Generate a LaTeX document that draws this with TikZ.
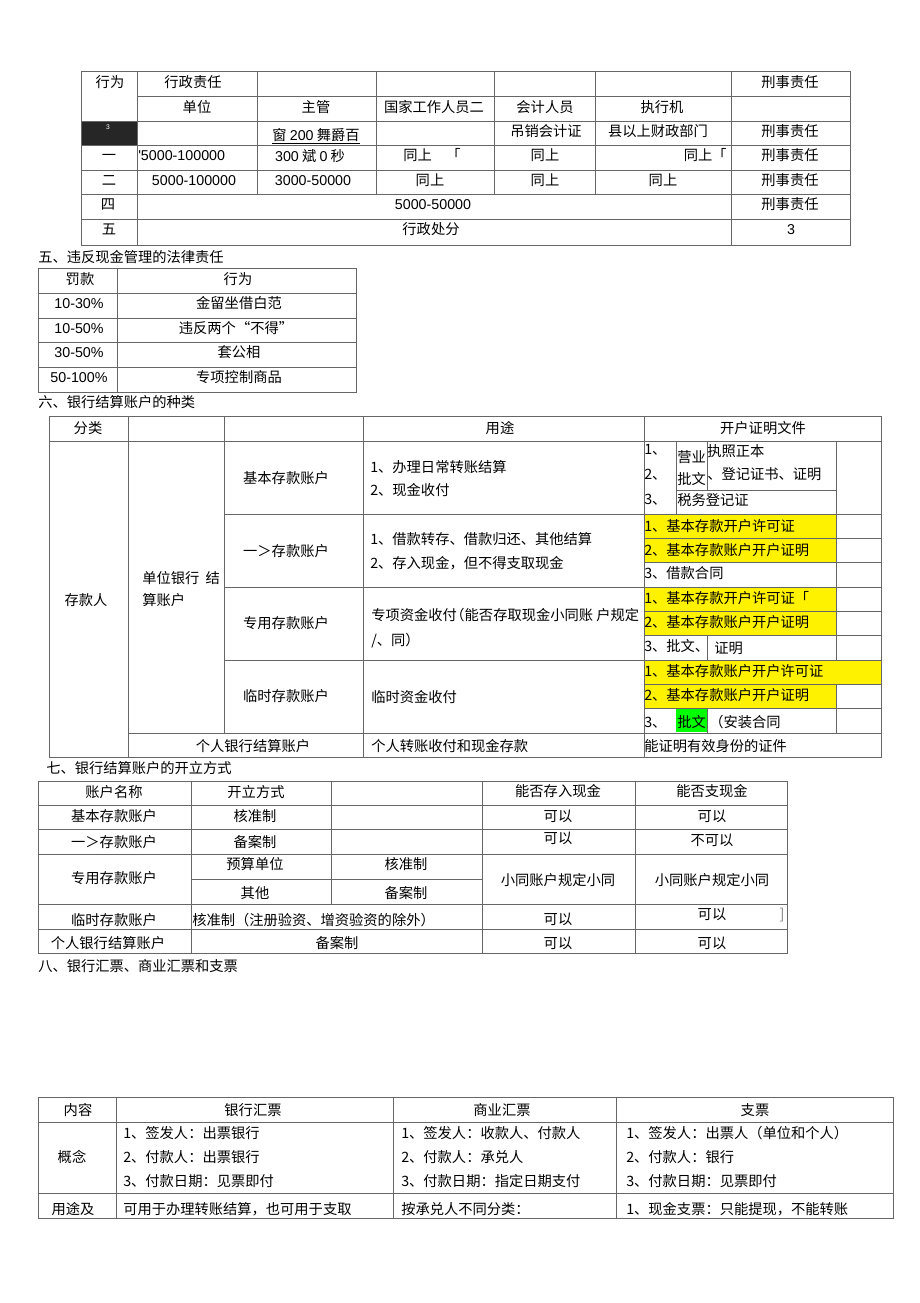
\documentclass[tikz,border=0pt]{standalone}
\usepackage{fontspec}
\setmainfont{Noto Sans CJK SC}
\newfontfamily\latfont{Liberation Sans}
\newcommand{\tabfont}{\fontsize{10.7}{16}\selectfont}
\tikzset{
  tabline/.style={draw=black!60, line width=0.75pt},
  txt/.style={inner sep=0pt, font=\tabfont, text height=9.4pt, text depth=1.3pt},
  ltxt/.style={txt, anchor=west},
  rtxt/.style={txt, anchor=east},
  num/.style={txt, font=\tabfont\latfont},
  lnum/.style={num, anchor=west},
  hilite/.style={fill=yellow},
}

\begin{document}
\begin{tikzpicture}[x=0.75pt, y=-0.75pt]
  \useasboundingbox[fill=white] (0,0) rectangle (920,1303);

  %%%%% table: legal liability %%%%%
  \fill[black!85] (81,121) rectangle (137,145);
  \draw[tabline] (81,71) rectangle (850,245);
  \draw[tabline] (137,96) -- (850,96);
  \foreach \y in {121,145,170,194,219}
    \draw[tabline] (81,\y) -- (850,\y);
  \foreach \x in {137,731}
    \draw[tabline] (\x,71) -- (\x,245);
  \foreach \x in {257,376,494,595}
    \draw[tabline] (\x,71) -- (\x,194);

  \node[txt] (xw) at (110,82) {行为};
  \node[txt] (xz) at (193,82) {行政责任};
  \node[txt] (xs1) at (790,82) {刑事责任};
  \node[txt] (dw) at (197,107) {单位};
  \node[txt] (zg) at (316,107) {主管};
  \node[txt] (gj) at (434,107) {国家工作人员二};
  \node[txt] (kj) at (545,107) {会计人员};
  \node[txt] (zx) at (662,107) {执行机};
  \node[inner sep=0pt, font=\fontsize{5}{6}\selectfont\latfont, text=white] (blk) at (108,127) {3};
  \node[txt] (wu) at (316,135) {\underline{窗 {\latfont 200} 舞爵百}};
  \node[txt] (dx) at (546,131) {吊销会计证};
  \node[txt] (cz) at (658,131) {县以上财政部门};
  \node[txt] (xs2) at (790,131) {刑事责任};
  \node[txt] (r1) at (109,155) {一};
  \node[lnum] (r1a) at (138,155) {'5000-100000};
  \node[txt] (r1b) at (310,156) {{\latfont 300} 斌 {\latfont 0} 秒};
  \node[txt] (r1c) at (432,155) {同上\quad 「};
  \node[txt] (r1d) at (545,155) {同上};
  \node[rtxt] (r1e) at (727,155) {同上「};
  \node[txt] (xs3) at (790,155) {刑事责任};
  \node[txt] (r2) at (109,180) {二};
  \node[num] (r2a) at (194,180) {5000-100000};
  \node[num] (r2b) at (313,180) {3000-50000};
  \node[txt] (r2c) at (430,180) {同上};
  \node[txt] (r2d) at (545,180) {同上};
  \node[txt] (r2e) at (663,180) {同上};
  \node[txt] (xs4) at (790,180) {刑事责任};
  \node[txt] (r4) at (108,204) {四};
  \node[num] (r4a) at (433,204) {5000-50000};
  \node[txt] (xs5) at (790,204) {刑事责任};
  \node[txt] (r5) at (109,229) {五};
  \node[txt] (r5a) at (431,229) {行政处分};
  \node[num] (r5b) at (791,229) {3};

  %%%%% table 5 %%%%%
  \node[ltxt] (h5) at (38,257) {五、违反现金管理的法律责任};
  \draw[tabline] (38,268) rectangle (356,392);
  \foreach \y in {293,318,342,367}
    \draw[tabline] (38,\y) -- (356,\y);
  \draw[tabline] (117,268) -- (117,392);
  \node[txt] (fk) at (80,279) {罚款};
  \node[txt] (xw5) at (238,279) {行为};
  \node[num] (p1) at (79,303) {10-30\%};
  \node[txt] (q1) at (239,303) {金留坐借白范};
  \node[num] (p2) at (79,328) {10-50\%};
  \node[txt] (q2) at (236,328) {违反两个“不得”};
  \node[num] (p3) at (79,352) {30-50\%};
  \node[txt] (q3) at (239,352) {套公相};
  \node[num] (p4) at (79,377) {50-100\%};
  \node[txt] (q4) at (239,377) {专项控制商品};

  %%%%% table 6 %%%%%
  \node[ltxt] (h6) at (38,402) {六、银行结算账户的种类};
  \fill[hilite] (644,514) rectangle (836,538);
  \fill[hilite] (644,538) rectangle (836,562);
  \fill[hilite] (644,587) rectangle (836,611);
  \fill[hilite] (644,611) rectangle (836,635);
  \fill[hilite] (644,660) rectangle (881,684);
  \fill[hilite] (644,684) rectangle (836,708);
  \fill[green] (676,708) rectangle (707,732);
  \draw[tabline] (49,416) rectangle (881,757);
  \draw[tabline] (49,441) -- (881,441);
  \foreach \y in {514,587,660}
    \draw[tabline] (224,\y) -- (881,\y);
  \draw[tabline] (128,733) -- (881,733);
  \foreach \x in {128,363,644}
    \draw[tabline] (\x,416) -- (\x,757);
  \draw[tabline] (224,416) -- (224,733);
  \draw[tabline] (836,441) -- (836,660);
  \draw[tabline] (836,684) -- (836,733);
  \draw[tabline] (676,441) -- (676,514);
  \draw[tabline] (707,441) -- (707,490);
  \draw[tabline] (676,490) -- (836,490);
  \foreach \y in {538,562,611,635,684,708}
    \draw[tabline] (644,\y) -- (881,\y);
  \draw[tabline] (707,635) -- (707,660);
  \draw[tabline] (707,708) -- (707,733);

  \node[txt] (fl) at (88,428) {分类};
  \node[txt] (yt) at (500,428) {用途};
  \node[txt] (kh) at (763,428) {开户证明文件};
  \node[txt] (ckr) at (86,600) {存款人};
  \node[ltxt] (dw6a) at (142,578) {单位银行\ \ 结};
  \node[ltxt] (dw6b) at (142,600) {算账户};
  \node[txt] (jb) at (286,478) {基本存款账户};
  \node[txt] (yb) at (286,551) {一＞存款账户};
  \node[txt] (zy) at (286,623) {专用存款账户};
  \node[txt] (ls) at (286,696) {临时存款账户};
  \node[txt] (gr) at (253,746) {个人银行结算账户};

  \node[ltxt] (jb1) at (370,467) {1、办理日常转账结算};
  \node[ltxt] (jb2) at (370,490) {2、现金收付};
  \node[ltxt] (yb1) at (370,539) {1、借款转存、借款归还、其他结算};
  \node[ltxt] (yb2) at (370,563) {2、存入现金，但不得支取现金};
  \node[ltxt] (zy1) at (371,615) {专项资金收付\hspace{-0.45em}（能否存取现金小同账\ 户规定};
  \node[ltxt] (zy2) at (371,640) {/、同）};
  \node[ltxt] (ls1) at (371,697) {临时资金收付};
  \node[ltxt] (gr1) at (371,746) {个人转账收付和现金存款};

  \node[ltxt] (jbn1) at (644,449) {1、};
  \node[ltxt] (jbn2) at (644,474) {2、};
  \node[ltxt] (jbn3) at (644,499) {3、};
  \node[ltxt] (yy) at (677,457) {营业};
  \node[ltxt] (pw) at (677,479) {批文};
  \node[ltxt] (zz) at (707,451) {执照正本};
  \node[ltxt] (dj) at (707,474) {、登记证书、证明};
  \node[ltxt] (sw) at (677,500) {税务登记证};
  \node[ltxt] (ybw1) at (644,526) {1、基本存款开户许可证};
  \node[ltxt] (ybw2) at (644,550) {2、基本存款账户开户证明};
  \node[ltxt] (ybw3) at (644,573) {3、借款合同};
  \node[ltxt] (zyw1) at (644,598) {1、基本存款开户许可证「};
  \node[ltxt] (zyw2) at (644,622) {2、基本存款账户开户证明};
  \node[ltxt] (zyw3) at (644,646) {3、批文、};
  \node[ltxt] (zyw4) at (714,648) {证明};
  \node[ltxt] (lsw1) at (644,671) {1、基本存款账户开户许可证};
  \node[ltxt] (lsw2) at (644,695) {2、基本存款账户开户证明};
  \node[ltxt] (lsw3) at (644,722) {3、};
  \node[ltxt] (lsw4) at (677,722) {批文};
  \node[ltxt] (lsw5) at (709,722) {（安装合同};
  \node[ltxt] (grw) at (644,746) {能证明有效身份的证件};

  %%%%% table 7 %%%%%
  \node[ltxt] (h7) at (46,768) {七、银行结算账户的开立方式};
  \draw[tabline] (38,781) rectangle (787,953);
  \foreach \y in {805,829,854,904,929}
    \draw[tabline] (38,\y) -- (787,\y);
  \draw[tabline] (191,879) -- (482,879);
  \foreach \x in {191,482,635}
    \draw[tabline] (\x,781) -- (\x,953);
  \draw[tabline] (331,781) -- (331,904);

  \node[txt] (zh) at (114,792) {账户名称};
  \node[txt] (kl) at (256,792) {开立方式};
  \node[txt] (cr) at (558,791) {能否存入现金};
  \node[txt] (zq) at (712,791) {能否支现金};
  \node[txt] (a1) at (114,816) {基本存款账户};
  \node[txt] (a1b) at (255,816) {核准制};
  \node[txt] (a1c) at (558,816) {可以};
  \node[txt] (a1d) at (712,816) {可以};
  \node[txt] (a2) at (114,842) {一＞存款账户};
  \node[txt] (a2b) at (255,842) {备案制};
  \node[txt] (a2c) at (558,838) {可以};
  \node[txt] (a2d) at (712,840) {不可以};
  \node[txt] (a3) at (114,878) {专用存款账户};
  \node[txt] (a3b) at (255,864) {预算单位};
  \node[txt] (a3c) at (406,864) {核准制};
  \node[txt] (a3d) at (255,893) {其他};
  \node[txt] (a3e) at (406,893) {备案制};
  \node[txt] (a3f) at (558,880) {小同账户规定小同};
  \node[txt] (a3g) at (712,880) {小同账户规定小同};
  \node[txt] (a4) at (114,920) {临时存款账户};
  \node[ltxt] (a4b) at (192,920) {核准制（注册验资、增资验资的除外）};
  \node[txt] (a4c) at (558,919) {可以};
  \node[txt] (a4d) at (712,914) {可以};
  \node[txt, text=black!50] (a4e) at (782,914) {]};
  \node[txt] (a5) at (108,943) {个人银行结算账户};
  \node[txt] (a5b) at (337,943) {备案制};
  \node[txt] (a5c) at (558,943) {可以};
  \node[txt] (a5d) at (712,943) {可以};

  %%%%% table 8 %%%%%
  \node[ltxt] (h8) at (38,966) {八、银行汇票、商业汇票和支票};
  \draw[tabline] (38,1097) rectangle (893,1218);
  \foreach \y in {1122,1193}
    \draw[tabline] (38,\y) -- (893,\y);
  \foreach \x in {116,393,616}
    \draw[tabline] (\x,1097) -- (\x,1218);

  \node[txt] (nr) at (78,1110) {内容};
  \node[txt] (yh) at (253,1110) {银行汇票};
  \node[txt] (sy) at (502,1110) {商业汇票};
  \node[txt] (zp) at (755,1110) {支票};
  \node[txt] (gn) at (72,1157) {概念};
  \node[ltxt] (yh1) at (123,1133) {1、签发人：出票银行};
  \node[ltxt] (yh2) at (123,1157) {2、付款人：出票银行};
  \node[ltxt] (yh3) at (123,1181) {3、付款日期：见票即付};
  \node[ltxt] (sy1) at (401,1133) {1、签发人：收款人、付款人};
  \node[ltxt] (sy2) at (401,1157) {2、付款人：承兑人};
  \node[ltxt] (sy3) at (401,1181) {3、付款日期：指定日期支付};
  \node[ltxt] (zp1) at (626,1133) {1、签发人：出票人（单位和个人）};
  \node[ltxt] (zp2) at (626,1157) {2、付款人：银行};
  \node[ltxt] (zp3) at (626,1181) {3、付款日期：见票即付};
  \node[txt] (ytj) at (73,1209) {用途及};
  \node[ltxt] (yh4) at (123,1209) {可用于办理转账结算，也可用于支取};
  \node[ltxt] (sy4) at (401,1209) {按承兑人不同分类：};
  \node[ltxt] (zp4) at (626,1209) {1、现金支票：只能提现，不能转账};
\end{tikzpicture}
\end{document}
